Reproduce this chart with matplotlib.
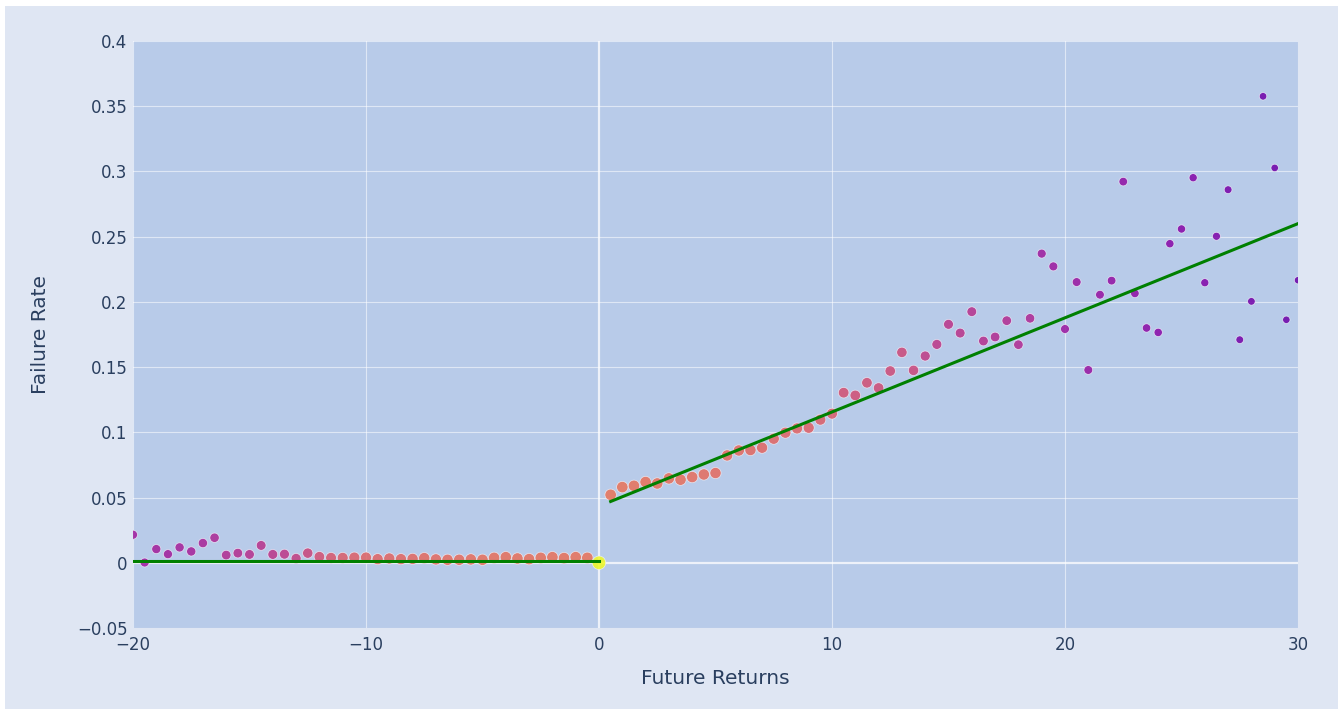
import numpy as np
import matplotlib.pyplot as plt
from matplotlib.patches import Rectangle

# binned future returns (%) and observed failure rate per bin
returns_left = [-20, -19.5, -19, -18.5, -18, -17.5, -17, -16.5, -16, -15.5,
                -15, -14.5, -14, -13.5, -13, -12.5, -12, -11.5, -11, -10.5,
                -10, -9.5, -9, -8.5, -8, -7.5, -7, -6.5, -6, -5.5,
                -5, -4.5, -4, -3.5, -3, -2.5, -2, -1.5, -1, -0.5, 0]
failure_left = [0.0215, 0.0002, 0.0105, 0.0066, 0.0118, 0.0087, 0.0151, 0.0192, 0.0059, 0.0074,
                0.0064, 0.0133, 0.0064, 0.0066, 0.0033, 0.0074, 0.0046, 0.0038, 0.0038, 0.0040,
                0.0040, 0.0028, 0.0033, 0.0028, 0.0030, 0.0036, 0.0026, 0.0023, 0.0023, 0.0026,
                0.0023, 0.0038, 0.0043, 0.0033, 0.0028, 0.0038, 0.0043, 0.0036, 0.0043, 0.0038, 0.0]
count_left = [240, 220, 260, 250, 280, 290, 310, 340, 400, 430,
              460, 500, 550, 600, 700, 900, 1300, 1600, 1900, 2100,
              2300, 2400, 2500, 2600, 2700, 2800, 2900, 3000, 3100, 3200,
              3300, 3350, 3400, 3450, 3500, 3550, 3600, 3650, 3700, 3750, 100000]

returns_right = [0.5, 1, 1.5, 2, 2.5, 3, 3.5, 4, 4.5, 5,
                 5.5, 6, 6.5, 7, 7.5, 8, 8.5, 9, 9.5, 10,
                 10.5, 11, 11.5, 12, 12.5, 13, 13.5, 14, 14.5, 15,
                 15.5, 16, 16.5, 17, 17.5, 18, 18.5, 19, 19.5, 20,
                 20.5, 21, 21.5, 22, 22.5, 23, 23.5, 24, 24.5, 25,
                 25.5, 26, 26.5, 27, 27.5, 28, 28.5, 29, 29.5, 30]
failure_right = [0.0521, 0.0580, 0.0590, 0.0619, 0.0608, 0.0647, 0.0637, 0.0657, 0.0677, 0.0688,
                 0.0823, 0.0861, 0.0864, 0.0882, 0.0951, 0.0997, 0.1030, 0.1035, 0.1097, 0.1143,
                 0.1304, 0.1283, 0.1380, 0.1340, 0.1470, 0.1613, 0.1475, 0.1585, 0.1674, 0.1828,
                 0.1761, 0.1925, 0.1700, 0.1731, 0.1856, 0.1672, 0.1874, 0.2370, 0.2272, 0.1792,
                 0.2152, 0.1478, 0.2055, 0.2163, 0.2922, 0.2065, 0.1800, 0.1766, 0.2446, 0.2559,
                 0.2952, 0.2147, 0.2503, 0.2860, 0.1710, 0.2004, 0.3576, 0.3027, 0.1863, 0.2166]
count_right = [3900, 3800, 3700, 3600, 3500, 3400, 3300, 3200, 3100, 3000,
               2900, 2800, 2700, 2600, 2500, 2400, 2300, 2200, 2000, 1800,
               1300, 1250, 1200, 1150, 1100, 1000, 950, 650, 600, 560,
               520, 480, 450, 420, 400, 380, 360, 230, 220, 210,
               200, 190, 180, 170, 160, 150, 140, 130, 125, 120,
               115, 110, 100, 85, 80, 75, 70, 68, 65, 62]

# piecewise linear fits
fit_left_x = [-20, 0]
fit_left_y = [0.001, 0.001]
fit_right_x = [0.5, 30]
fit_right_y = [0.047, 0.260]

TEXT = "#2a3f5f"
PAPER = "#dfe6f3"
PLOT_BG = "#b8cbe9"

plt.rcParams["font.family"] = ["DejaVu Sans"]

fig = plt.figure(figsize=(13.38, 7.09), dpi=100, facecolor="white")
fig.patches.append(Rectangle((5 / 1338, 0), 1, 1 - 6 / 709, transform=fig.transFigure,
                             facecolor=PAPER, edgecolor="none", zorder=-10))
ax = fig.add_axes([133 / 1338, 1 - 628 / 709, 1165 / 1338, 587 / 709])
ax.set_facecolor(PLOT_BG)

x = np.array(returns_left + returns_right)
y = np.array(failure_left + failure_right)
n = np.array(count_left + count_right, dtype=float)

# colour and size both follow log10 of the bin count
t = np.clip((np.log10(n) - 1) / 4, 0, 1)
diam_px = 13.5 * t ** 0.38
sizes = (diam_px / (100 / 72)) ** 2
ax.scatter(x, y, c=t, cmap="plasma", vmin=0, vmax=1, s=sizes, alpha=0.85,
           edgecolors="#eef2fa", linewidths=0.5, zorder=3)

ax.plot(fit_left_x, fit_left_y, color="green", lw=2.2, zorder=4)
ax.plot(fit_right_x, fit_right_y, color="green", lw=2.2, zorder=4)

ax.set_xlim(-20, 30)
ax.set_ylim(-0.05, 0.4)
xt = [-20, -10, 0, 10, 20, 30]
yt = [-0.05, 0, 0.05, 0.1, 0.15, 0.2, 0.25, 0.3, 0.35, 0.4]
ax.set_xticks(xt)
ax.set_xticklabels([f"{v}".replace("-", "\u2212") for v in xt])
ax.set_yticks(yt)
ax.set_yticklabels([f"{v:g}".replace("-", "\u2212") for v in yt])

for v in xt:
    if v != 0:
        ax.axvline(v, color="white", lw=0.8, alpha=0.55, zorder=1)
for v in yt:
    if v != 0:
        ax.axhline(v, color="white", lw=0.8, alpha=0.55, zorder=1)
ax.axvline(0, color="white", lw=1.6, alpha=0.75, zorder=1)
ax.axhline(0, color="white", lw=1.6, alpha=0.75, zorder=1)

for s in ax.spines.values():
    s.set_visible(False)
ax.tick_params(axis="both", length=0, labelsize=12, colors=TEXT)
ax.tick_params(axis="x", pad=6)
ax.tick_params(axis="y", pad=4)

ax.set_xlabel("Future Returns", fontsize=14.5, color=TEXT)
ax.set_ylabel("Failure Rate", fontsize=14.5, color=TEXT)
ax.xaxis.set_label_coords(0.5, -50 / 587)
ax.yaxis.set_label_coords(-93 / 1165, 0.5)
ax.xaxis.label.set_va("center")
ax.yaxis.label.set_va("center")

fig.savefig("out.png", dpi=100, facecolor=fig.get_facecolor())
